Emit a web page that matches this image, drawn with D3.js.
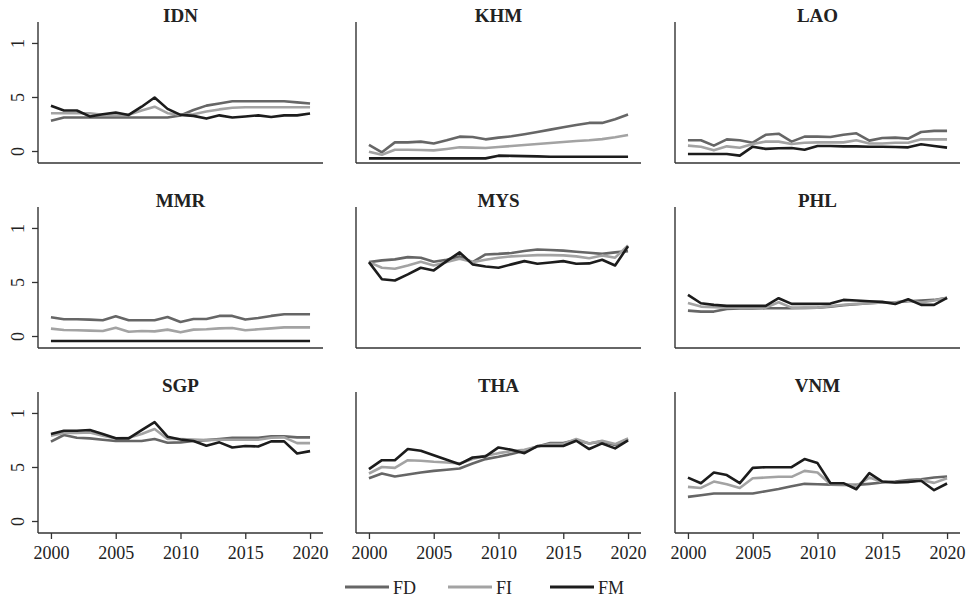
<!DOCTYPE html>
<html>
<head>
<meta charset="utf-8">
<script src="https://cdn.jsdelivr.net/npm/d3@7/dist/d3.min.js"></script>
<style>
  html, body { margin: 0; padding: 0; background: #fff; }
  svg { display: block; }
  text { font-family: "Liberation Serif", "DejaVu Serif", serif; fill: #222; }
</style>
</head>
<body>
<svg id="chart" width="970" height="597"></svg>
<script>
const years = d3.range(2000, 2021);
const countries = ["IDN", "KHM", "LAO", "MMR", "MYS", "PHL", "SGP", "THA", "VNM"];
const seriesNames = ["FD", "FI", "FM"];
const xTickValues = [2000, 2005, 2010, 2015, 2020];
const yTickValues = [0, 0.5, 1];
const yTickLabels = ["0", "5", "1"];

const IDN_FD = [0.28,0.31,0.31,0.31,0.31,0.31,0.31,0.31,0.31,0.31,0.33,0.38,0.42,0.44,0.46,0.46,0.46,0.46,0.46,0.45,0.44];
const IDN_FI = [0.35,0.35,0.35,0.35,0.335,0.335,0.335,0.375,0.41,0.35,0.335,0.34,0.365,0.385,0.40,0.405,0.405,0.405,0.405,0.405,0.405];
const IDN_FM = [0.418,0.375,0.375,0.32,0.34,0.356,0.334,0.41,0.495,0.39,0.334,0.325,0.30,0.33,0.31,0.32,0.33,0.315,0.33,0.33,0.347];

const KHM_FD = [0.056,-0.012,0.08,0.08,0.087,0.07,0.10,0.133,0.13,0.108,0.124,0.136,0.155,0.176,0.198,0.22,0.24,0.26,0.26,0.294,0.337];
const KHM_FI = [-0.006,-0.034,0.012,0.012,0.01,0.006,0.019,0.034,0.031,0.028,0.037,0.046,0.056,0.065,0.074,0.084,0.093,0.10,0.11,0.127,0.149];
const KHM_FM = [-0.068,-0.068,-0.068,-0.068,-0.068,-0.068,-0.068,-0.068,-0.068,-0.068,-0.043,-0.045,-0.047,-0.05,-0.053,-0.053,-0.053,-0.053,-0.053,-0.053,-0.053];

const LAO_FD = [0.10,0.10,0.05,0.108,0.10,0.077,0.15,0.16,0.087,0.133,0.133,0.13,0.15,0.164,0.096,0.12,0.124,0.115,0.176,0.186,0.186];
const LAO_FI = [0.05,0.04,0.006,0.043,0.03,0.065,0.087,0.087,0.065,0.077,0.08,0.08,0.08,0.10,0.07,0.07,0.077,0.077,0.108,0.108,0.108];
const LAO_FM = [-0.028,-0.028,-0.028,-0.028,-0.043,0.04,0.02,0.025,0.028,0.012,0.046,0.046,0.043,0.043,0.04,0.04,0.037,0.034,0.062,0.046,0.031];

const MMR_FD = [0.173,0.155,0.155,0.152,0.146,0.183,0.146,0.146,0.146,0.176,0.130,0.158,0.158,0.186,0.186,0.152,0.167,0.186,0.201,0.201,0.201];
const MMR_FI = [0.068,0.056,0.053,0.05,0.046,0.077,0.04,0.046,0.043,0.059,0.034,0.059,0.062,0.071,0.074,0.053,0.062,0.071,0.08,0.08,0.08];
const MMR_FM = [-0.046,-0.046,-0.046,-0.046,-0.046,-0.046,-0.046,-0.046,-0.046,-0.046,-0.046,-0.046,-0.046,-0.046,-0.046,-0.046,-0.046,-0.046,-0.046,-0.046,-0.046];

const MYS_FD = [0.684,0.70,0.709,0.73,0.725,0.687,0.706,0.737,0.684,0.755,0.76,0.768,0.786,0.80,0.796,0.79,0.78,0.77,0.76,0.774,0.786];
const MYS_FI = [0.684,0.632,0.622,0.653,0.687,0.653,0.684,0.715,0.684,0.706,0.725,0.737,0.743,0.749,0.749,0.746,0.737,0.72,0.746,0.725,0.839];
const MYS_FM = [0.684,0.526,0.514,0.57,0.632,0.607,0.693,0.774,0.663,0.644,0.632,0.663,0.693,0.669,0.681,0.693,0.669,0.672,0.706,0.653,0.83];

const PHL_FD = [0.235,0.226,0.226,0.25,0.254,0.254,0.257,0.257,0.257,0.26,0.263,0.272,0.285,0.294,0.303,0.31,0.313,0.322,0.328,0.334,0.353];
const PHL_FI = [0.306,0.272,0.266,0.263,0.263,0.263,0.263,0.313,0.263,0.26,0.263,0.276,0.29,0.297,0.303,0.31,0.31,0.328,0.31,0.328,0.353];
const PHL_FM = [0.38,0.303,0.288,0.279,0.279,0.279,0.279,0.35,0.297,0.297,0.297,0.30,0.334,0.328,0.322,0.316,0.297,0.34,0.288,0.288,0.353];

const SGP_FD = [0.734,0.796,0.771,0.765,0.752,0.74,0.74,0.74,0.759,0.724,0.728,0.74,0.749,0.759,0.771,0.771,0.771,0.783,0.783,0.774,0.774];
const SGP_FI = [0.789,0.814,0.814,0.82,0.789,0.765,0.771,0.805,0.851,0.759,0.759,0.755,0.749,0.752,0.752,0.752,0.752,0.771,0.774,0.721,0.721];
const SGP_FM = [0.805,0.836,0.836,0.842,0.805,0.765,0.765,0.842,0.916,0.78,0.755,0.74,0.697,0.728,0.681,0.694,0.69,0.737,0.737,0.625,0.647];

const THA_FD = [0.396,0.44,0.412,0.43,0.449,0.464,0.474,0.486,0.533,0.573,0.594,0.62,0.65,0.69,0.721,0.721,0.749,0.718,0.737,0.703,0.759];
const THA_FI = [0.44,0.50,0.492,0.563,0.557,0.548,0.542,0.533,0.573,0.604,0.628,0.647,0.659,0.69,0.712,0.712,0.759,0.718,0.743,0.712,0.765];
const THA_FM = [0.48,0.563,0.563,0.666,0.65,0.609,0.567,0.526,0.588,0.598,0.681,0.659,0.628,0.694,0.694,0.694,0.743,0.666,0.718,0.672,0.746];

const VNM_FD = [0.223,0.238,0.254,0.254,0.254,0.254,0.276,0.297,0.322,0.344,0.34,0.337,0.334,0.334,0.344,0.356,0.365,0.378,0.387,0.402,0.412];
const VNM_FI = [0.316,0.306,0.365,0.34,0.306,0.396,0.402,0.409,0.409,0.464,0.449,0.34,0.34,0.325,0.402,0.362,0.356,0.362,0.38,0.353,0.396];
const VNM_FM = [0.402,0.35,0.449,0.425,0.35,0.492,0.498,0.498,0.498,0.573,0.536,0.35,0.35,0.294,0.443,0.365,0.356,0.362,0.372,0.285,0.347];

const data = {
  IDN: [IDN_FD, IDN_FI, IDN_FM], KHM: [KHM_FD, KHM_FI, KHM_FM], LAO: [LAO_FD, LAO_FI, LAO_FM],
  MMR: [MMR_FD, MMR_FI, MMR_FM], MYS: [MYS_FD, MYS_FI, MYS_FM], PHL: [PHL_FD, PHL_FI, PHL_FM],
  SGP: [SGP_FD, SGP_FI, SGP_FM], THA: [THA_FD, THA_FI, THA_FM], VNM: [VNM_FD, VNM_FI, VNM_FM]
};

const colors = { FD: "#666666", FI: "#a3a3a3", FM: "#1c1c1c" };
const axisColor = "#333";

const colX = [38, 356, 675];
const rowY = [22, 207, 392];
const pw = 285, ph = 141;

const x = d3.scaleLinear().domain([1999, 2021]).range([0, pw]);
const y = d3.scaleLinear().domain([-0.111, 1.194]).range([ph, 0]);

const svg = d3.select("#chart");

const line = d3.line().x((d, i) => x(years[i])).y(d => y(d));

countries.forEach((c, idx) => {
  const col = idx % 3, row = Math.floor(idx / 3);
  const g = svg.append("g").attr("transform", `translate(${colX[col]},${rowY[row]})`);

  // title
  g.append("text")
    .attr("x", pw / 2).attr("y", 0)
    .attr("text-anchor", "middle")
    .style("font-size", "19px").style("font-weight", "bold")
    .text(c);

  // y axis
  if (col === 0) {
    const ya = g.append("g").call(
      d3.axisLeft(y).tickValues(yTickValues).tickSize(6).tickSizeOuter(0)
        .tickFormat((d, i) => yTickLabels[i])
    );
    ya.select(".domain").remove();
    ya.selectAll(".tick line").attr("stroke", axisColor).attr("stroke-width", 1.3);
    ya.selectAll(".tick text")
      .attr("x", null).attr("dy", null)
      .attr("transform", "translate(-14,0) rotate(-90)")
      .attr("text-anchor", "middle")
      .style("font-size", "18px").style("font-family", "Liberation Serif, serif").attr("fill", "#333");
  }
  g.append("line")
    .attr("x1", x.range()[0]).attr("x2", x.range()[0])
    .attr("y1", y.range()[1]).attr("y2", y.range()[0])
    .attr("stroke", axisColor).attr("stroke-width", 1.4);

  // x axis
  if (row === 2) {
    const xa = g.append("g").attr("transform", `translate(0,${ph})`).call(
      d3.axisBottom(x).tickValues(xTickValues).tickSize(6).tickSizeOuter(0).tickFormat(d3.format("d"))
    );
    xa.select(".domain").remove();
    xa.selectAll(".tick line").attr("stroke", axisColor).attr("stroke-width", 1.3);
    xa.selectAll(".tick text")
      .attr("y", 26).attr("dy", null)
      .style("font-size", "18px").style("font-family", "Liberation Serif, serif").attr("fill", "#333");
  }
  g.append("line")
    .attr("x1", x.range()[0]).attr("x2", x.range()[1])
    .attr("y1", y.range()[0]).attr("y2", y.range()[0])
    .attr("stroke", axisColor).attr("stroke-width", 1.4);

  // series lines
  data[c].forEach((vals, si) => {
    g.append("path")
      .datum(vals)
      .attr("d", line)
      .attr("fill", "none")
      .attr("stroke", colors[seriesNames[si]])
      .attr("stroke-width", 2.6)
      .attr("stroke-linejoin", "round");
  });
});

// legend
const legendX = [345, 448, 550];
const legendY = 587;
seriesNames.forEach((s, i) => {
  const lg = svg.append("g").attr("transform", `translate(${legendX[i]},${legendY})`);
  lg.append("line").attr("x1", 0).attr("x2", 44).attr("y1", 0).attr("y2", 0)
    .attr("stroke", colors[s]).attr("stroke-width", 2.8);
  lg.append("text").attr("x", 48).attr("y", 6.5)
    .style("font-size", "18px").attr("fill", "#333").text(s);
});
</script>
</body>
</html>
